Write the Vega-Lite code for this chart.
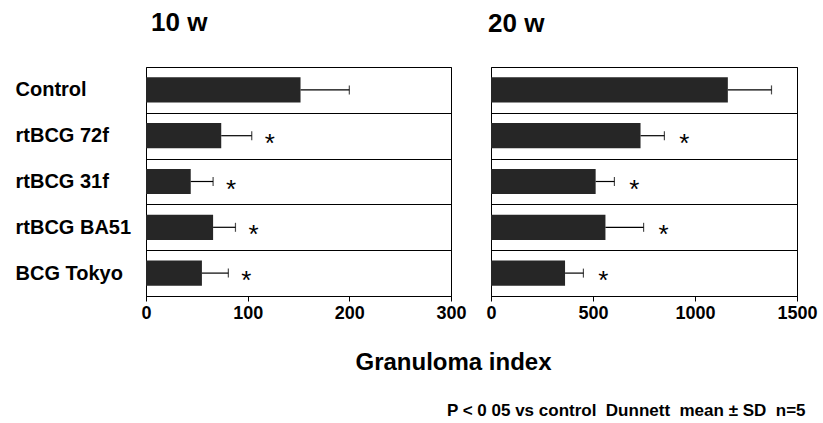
{
  "$schema": "https://vega.github.io/schema/vega-lite/v6.json",
  "padding": {"left": 14, "top": 9, "right": 5, "bottom": 5},
  "background": "white",
  "datasets": {
    "w10": [
      {"group": "Control", "mean": 152, "upper": 200, "star": ""},
      {"group": "rtBCG 72f", "mean": 74, "upper": 104, "star": "*"},
      {"group": "rtBCG 31f", "mean": 44, "upper": 66, "star": "*"},
      {"group": "rtBCG BA51", "mean": 66, "upper": 88, "star": "*"},
      {"group": "BCG Tokyo", "mean": 55, "upper": 81, "star": "*"}
    ],
    "w20": [
      {"group": "Control", "mean": 1161, "upper": 1375, "star": ""},
      {"group": "rtBCG 72f", "mean": 733, "upper": 850, "star": "*"},
      {"group": "rtBCG 31f", "mean": 513, "upper": 605, "star": "*"},
      {"group": "rtBCG BA51", "mean": 561, "upper": 748, "star": "*"},
      {"group": "BCG Tokyo", "mean": 363, "upper": 453, "star": "*"}
    ]
  },
  "title": {
    "text": "P < 0 05 vs control\u00a0 Dunnett\u00a0 mean ± SD\u00a0 n=5",
    "orient": "bottom",
    "anchor": "end",
    "fontSize": 17,
    "fontWeight": "bold",
    "color": "black",
    "offset": 28,
    "dx": -12
  },
  "spacing": 40,
  "bounds": "flush",
  "hconcat": [
    {
      "width": 305,
      "height": 229,
      "data": {"name": "w10"},
      "title": {"text": "10 w", "anchor": "start", "frame": "group", "fontSize": 26, "fontWeight": "bold", "color": "black", "offset": 21, "dx": 5},
      "encoding": {
        "y": {
          "field": "group", "type": "nominal", "sort": null,
          "scale": {"paddingInner": 0, "paddingOuter": 0},
          "axis": {
            "title": null, "labelAlign": "left", "labelPadding": 131, "ticks": false, "tickSize": 0,
            "domain": false, "grid": true, "tickBand": "extent", "gridColor": "black", "gridOpacity": 1, "gridWidth": 1,
            "labelFontSize": 20, "labelFontWeight": "bold", "labelColor": "black"
          }
        }
      },
      "layer": [
        {
          "mark": {"type": "bar", "color": "#262626", "height": {"band": 0.55}},
          "encoding": {
            "x": {
              "field": "mean", "type": "quantitative",
              "scale": {"domain": [0, 300], "nice": false},
              "axis": {
                "title": null, "values": [0, 100, 200, 300], "format": "d", "labelFlush": false, "labelFontSize": 18,
                "labelFontWeight": "bold", "labelColor": "black", "tickColor": "black", "tickSize": 5,
                "domainColor": "black", "grid": false, "labelPadding": 3
              }
            }
          }
        },
        {
          "mark": {"type": "rule", "color": "black", "strokeWidth": 1.2},
          "encoding": {"x": {"field": "mean", "type": "quantitative"}, "x2": {"field": "upper"}}
        },
        {
          "mark": {"type": "tick", "color": "black", "thickness": 1.2, "size": 9},
          "encoding": {"x": {"field": "upper", "type": "quantitative"}}
        },
        {
          "mark": {"type": "text", "dx": 18, "dy": 8, "fontSize": 26, "align": "center", "baseline": "middle", "color": "black"},
          "encoding": {"x": {"field": "upper", "type": "quantitative"}, "text": {"field": "star"}}
        }
      ]
    },
    {
      "width": 306,
      "height": 229,
      "data": {"name": "w20"},
      "title": {"text": "20 w", "anchor": "start", "frame": "group", "fontSize": 26, "fontWeight": "bold", "color": "black", "offset": 30, "dx": -3},
      "encoding": {
        "y": {
          "field": "group", "type": "nominal", "sort": null,
          "scale": {"paddingInner": 0, "paddingOuter": 0},
          "axis": {
            "title": null, "labels": false, "ticks": false, "tickSize": 0,
            "domain": false, "grid": true, "tickBand": "extent", "gridColor": "black", "gridOpacity": 1, "gridWidth": 1
          }
        }
      },
      "layer": [
        {
          "mark": {"type": "bar", "color": "#262626", "height": {"band": 0.55}},
          "encoding": {
            "x": {
              "field": "mean", "type": "quantitative",
              "scale": {"domain": [0, 1500], "nice": false},
              "axis": {
                "title": "Granuloma index", "values": [0, 500, 1000, 1500], "format": "d", "labelFlush": false, "labelFontSize": 18,
                "labelFontWeight": "bold", "labelColor": "black", "tickColor": "black", "tickSize": 5,
                "domainColor": "black", "grid": false, "labelPadding": 3,
                "titleFontSize": 24, "titleFontWeight": "bold", "titleColor": "black",
                "titleX": -38, "titleY": 73, "titleAlign": "center", "titleBaseline": "alphabetic"
              }
            }
          }
        },
        {
          "mark": {"type": "rule", "color": "black", "strokeWidth": 1.2},
          "encoding": {"x": {"field": "mean", "type": "quantitative"}, "x2": {"field": "upper"}}
        },
        {
          "mark": {"type": "tick", "color": "black", "thickness": 1.2, "size": 9},
          "encoding": {"x": {"field": "upper", "type": "quantitative"}}
        },
        {
          "mark": {"type": "text", "dx": 20, "dy": 8, "fontSize": 26, "align": "center", "baseline": "middle", "color": "black"},
          "encoding": {"x": {"field": "upper", "type": "quantitative"}, "text": {"field": "star"}}
        }
      ]
    }
  ],
  "config": {
    "font": "Liberation Sans",
    "view": {"stroke": "black", "strokeWidth": 1}
  }
}
